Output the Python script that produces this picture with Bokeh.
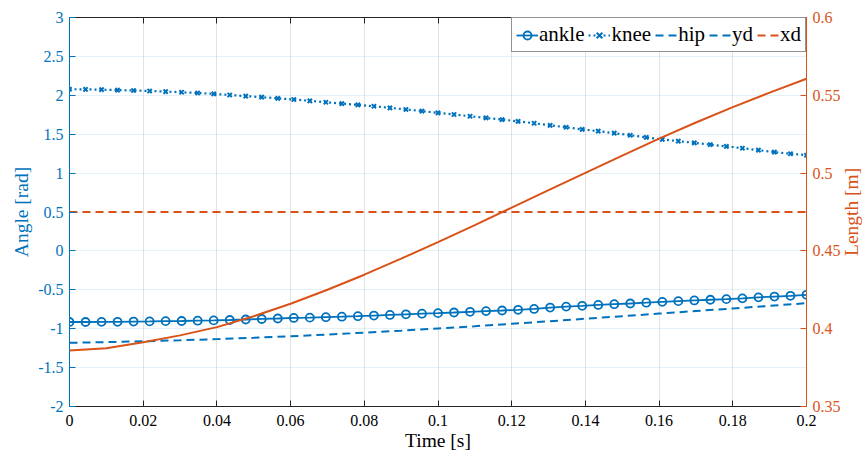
import math
from bokeh.plotting import figure
from bokeh.models import Range1d, LinearAxis, FixedTicker, Legend, LegendItem, ColumnDataSource
from bokeh.embed import file_html
from bokeh.resources import INLINE

BLUE = "#0072BD"
ORANGE = "#D95319"
DARK = "#262626"
SERIF = "Liberation Serif"

# sample times of the marked series (s)
t = [0.0, 0.00435, 0.0087, 0.01304, 0.01739, 0.02174, 0.02609, 0.03043, 0.03478, 0.03913,
     0.04348, 0.04783, 0.05217, 0.05652, 0.06087, 0.06522, 0.06957, 0.07391, 0.07826, 0.08261,
     0.08696, 0.0913, 0.09565, 0.1, 0.10435, 0.1087, 0.11304, 0.11739, 0.12174, 0.12609,
     0.13043, 0.13478, 0.13913, 0.14348, 0.14783, 0.15217, 0.15652, 0.16087, 0.16522, 0.16957,
     0.17391, 0.17826, 0.18261, 0.18696, 0.1913, 0.19565, 0.2]

ankle = [-0.914, -0.914, -0.912, -0.911, -0.908, -0.906, -0.903, -0.901, -0.897, -0.893,
         -0.888, -0.882, -0.875, -0.869, -0.862, -0.858, -0.852, -0.846, -0.839, -0.831,
         -0.823, -0.815, -0.807, -0.800, -0.792, -0.783, -0.774, -0.766, -0.757, -0.746,
         -0.728, -0.716, -0.706, -0.695, -0.685, -0.676, -0.666, -0.655, -0.646, -0.637,
         -0.628, -0.620, -0.610, -0.597, -0.587, -0.577, -0.564]

knee = [2.078, 2.077, 2.072, 2.067, 2.062, 2.055, 2.048, 2.039, 2.030, 2.018,
        2.004, 1.990, 1.976, 1.961, 1.946, 1.929, 1.911, 1.894, 1.877, 1.859,
        1.839, 1.818, 1.797, 1.775, 1.753, 1.731, 1.710, 1.688, 1.665, 1.641,
        1.614, 1.589, 1.562, 1.539, 1.513, 1.487, 1.459, 1.433, 1.410, 1.389,
        1.366, 1.343, 1.320, 1.295, 1.270, 1.249, 1.230]

# line series sampled every 0.01 s
t2 = [0.0, 0.01, 0.02, 0.03, 0.04, 0.05, 0.06, 0.07, 0.08, 0.09, 0.1,
      0.11, 0.12, 0.13, 0.14, 0.15, 0.16, 0.17, 0.18, 0.19, 0.2]

hip = [-1.181, -1.173, -1.162, -1.149, -1.134, -1.117, -1.097, -1.075, -1.051, -1.025, -0.997,
       -0.968, -0.937, -0.905, -0.872, -0.839, -0.806, -0.773, -0.740, -0.706, -0.672]

# yd is listed in the legend but no yd curve is visible in the plot
yd_t = [0.0]
yd = [float("nan")]

length = [0.3860, 0.3875, 0.3913, 0.3957, 0.4010, 0.4080, 0.4160, 0.4250, 0.4347, 0.4450, 0.4556,
          0.4666, 0.4778, 0.4890, 0.5001, 0.5112, 0.5222, 0.5325, 0.5424, 0.5517, 0.5606]

xd = [0.475] * len(t2)

x_ticks = [0, 0.02, 0.04, 0.06, 0.08, 0.1, 0.12, 0.14, 0.16, 0.18, 0.2]
x_labels = ["0", "0.02", "0.04", "0.06", "0.08", "0.1", "0.12", "0.14", "0.16", "0.18", "0.2"]
yl_ticks = [-2, -1.5, -1, -0.5, 0, 0.5, 1, 1.5, 2, 2.5, 3]
yl_labels = ["-2", "-1.5", "-1", "-0.5", "0", "0.5", "1", "1.5", "2", "2.5", "3"]
yr_ticks = [0.35, 0.4, 0.45, 0.5, 0.55, 0.6]
yr_labels = ["0.35", "0.4", "0.45", "0.5", "0.55", "0.6"]

FW, FH = 737, 389
AXIS_LABEL_SIZE = 19.5
p = figure(frame_width=FW, frame_height=FH,
           x_range=Range1d(0, 0.2), y_range=Range1d(-2, 3),
           output_backend="svg", toolbar_location=None,
           min_border_left=69, min_border_right=62, min_border_top=17, min_border_bottom=50)
p.outline_line_color = None
p.background_fill_color = "white"
p.border_fill_color = "white"
p.extra_y_ranges = {"len": Range1d(0.35, 0.6), "lab": Range1d(0, FH)}


def style_axis(ax, color, label_color, ticks, labels):
    ax.ticker = FixedTicker(ticks=ticks)
    ax.major_label_overrides = dict(zip(ticks, labels))
    ax.axis_line_color = color
    ax.axis_line_width = 1
    ax.major_tick_line_color = color
    ax.major_tick_in = 6
    ax.major_tick_out = 0
    ax.minor_tick_line_color = None
    ax.major_label_text_font = SERIF
    ax.major_label_text_font_size = "16px"
    ax.major_label_text_color = label_color
    ax.major_label_standoff = 6
    ax.axis_label_text_font = SERIF
    ax.axis_label_text_font_size = f"{AXIS_LABEL_SIZE}px"
    ax.axis_label_text_font_style = "normal"
    ax.axis_label_text_color = label_color
    ax.axis_label_standoff = 3


xa = p.xaxis[0]
style_axis(xa, DARK, "black", x_ticks, x_labels)
xa.axis_label = "Time [s]"
xa.major_label_standoff = 8
xa.axis_label_standoff = 1

ya = p.yaxis[0]
style_axis(ya, BLUE, BLUE, yl_ticks, yl_labels)
ya.axis_label = "Angle [rad]"

yr = LinearAxis(y_range_name="len")
style_axis(yr, ORANGE, ORANGE, yr_ticks, yr_labels)
p.add_layout(yr, "right")

# right axis title, reading bottom-to-top like the left one; rotated tick labels are
# start-anchored, so the single "tick" sits half the text length below the middle (px)
title_start = FH / 2 - 44
yt = LinearAxis(y_range_name="lab")
yt.ticker = FixedTicker(ticks=[title_start])
yt.major_label_overrides = {title_start: "Length [m]"}
yt.major_label_orientation = math.pi / 2
yt.major_label_text_font = SERIF
yt.major_label_text_font_size = f"{AXIS_LABEL_SIZE}px"
yt.major_label_text_color = ORANGE
yt.major_label_standoff = 2
yt.axis_line_color = None
yt.major_tick_line_color = None
yt.minor_tick_line_color = None
p.add_layout(yt, "right")

top = LinearAxis()
style_axis(top, DARK, DARK, x_ticks, ["" for _ in x_labels])
top.major_label_text_font_size = "0px"
top.major_label_standoff = 0
p.add_layout(top, "above")

p.xgrid.ticker = FixedTicker(ticks=x_ticks)
p.xgrid.grid_line_color = DARK
p.xgrid.grid_line_alpha = 0.13
p.ygrid.ticker = FixedTicker(ticks=yl_ticks)
p.ygrid.grid_line_color = BLUE
p.ygrid.grid_line_alpha = 0.1

src = ColumnDataSource(dict(t=t, ankle=ankle, knee=knee))
src2 = ColumnDataSource(dict(t=t2, hip=hip, length=length, xd=xd))
src3 = ColumnDataSource(dict(t=yd_t, yd=yd))

r_ank_l = p.line("t", "ankle", source=src, line_color=BLUE, line_width=1.8)
r_ank_m = p.scatter("t", "ankle", source=src, marker="circle", size=8, fill_color=None,
                    line_color=BLUE, line_width=1.8)
r_knee_l = p.line("t", "knee", source=src, line_color=BLUE, line_width=2.2, line_dash="2 3")
r_knee_m = p.scatter("t", "knee", source=src, marker="x", size=6, line_color=BLUE, line_width=2)
r_hip = p.line("t", "hip", source=src2, line_color=BLUE, line_width=2, line_dash="8 5")
r_yd = p.line("t", "yd", source=src3, line_color=BLUE, line_width=2, line_dash="8 5")
r_xd = p.line("t", "xd", source=src2, y_range_name="len", line_color=ORANGE, line_width=2,
              line_dash="8 5")
r_len = p.line("t", "length", source=src2, y_range_name="len", line_color=ORANGE, line_width=2)

legend = Legend(items=[
    LegendItem(label="ankle", renderers=[r_ank_l, r_ank_m]),
    LegendItem(label="knee", renderers=[r_knee_l, r_knee_m]),
    LegendItem(label="hip", renderers=[r_hip]),
    LegendItem(label="yd", renderers=[r_yd]),
    LegendItem(label="xd", renderers=[r_xd]),
], location="top_right", orientation="horizontal")
legend.margin = 0
legend.padding = 4
legend.spacing = 4
legend.glyph_width = 22
legend.glyph_height = 20
legend.label_standoff = 1
legend.label_height = 20
legend.label_text_font = SERIF
legend.label_text_font_size = "21px"
legend.label_text_color = "black"
legend.border_line_color = DARK
legend.border_line_width = 1
legend.background_fill_color = "white"
legend.background_fill_alpha = 1
p.add_layout(legend)

open("out.html", "w").write(file_html(p, INLINE))
